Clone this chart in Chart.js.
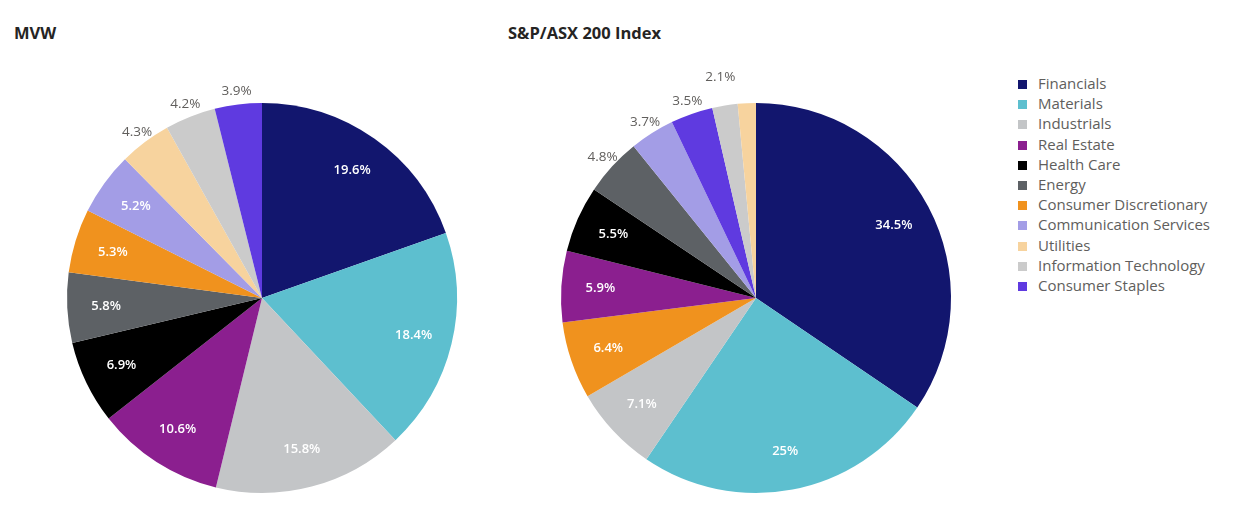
<!DOCTYPE html>
<html>
<head>
<meta charset="utf-8">
<script src="https://cdn.jsdelivr.net/npm/chart.js@4/dist/chart.umd.min.js"></script>
<style>
  body { margin: 0; width: 1233px; height: 517px; background: #fff; position: relative; overflow: hidden; font-family: "Open Sans", sans-serif; }
  .title { position: absolute; top: 21px; font-size: 16.5px; font-weight: 700; color: #252423; }
  .wrap { position: absolute; width: 500px; height: 500px; }
  #legend { position: absolute; left: 1018px; top: 73px; font-size: 15px; color: #605e5c; }
  #legend div { height: 20.2px; line-height: 20.2px; white-space: nowrap; }
  #legend span { display: inline-block; width: 9px; height: 9px; margin-right: 11px; vertical-align: 0px; }
</style>
</head>
<body>
<div class="title" style="left:14px">MVW</div>
<div class="title" style="left:508px">S&amp;P/ASX 200 Index</div>
<div class="wrap" style="left:12px; top:48px"><canvas id="mvwChart"></canvas></div>
<div class="wrap" style="left:506px; top:48px"><canvas id="asxChart"></canvas></div>
<div id="legend"></div>

<script>
// ===============================
// 資料
// ===============================
const sectors = ["Financials", "Materials", "Industrials", "Real Estate", "Health Care", "Energy",
  "Consumer Discretionary", "Communication Services", "Utilities", "Information Technology", "Consumer Staples"];
const sectorColors = ["#12166e", "#5dbfcf", "#c3c5c7", "#8b1f8f", "#000000", "#5d6165",
  "#f0921e", "#a39de6", "#f7d39e", "#cbcbcb", "#5f3ae0"];

const mvwWeights = [19.6, 18.4, 15.8, 10.6, 6.9, 5.8, 5.3, 5.2, 4.3, 4.2, 3.9];

// index is drawn largest first
const asxSectors = ["Financials", "Materials", "Industrials", "Consumer Discretionary", "Real Estate",
  "Health Care", "Energy", "Communication Services", "Consumer Staples", "Information Technology", "Utilities"];
const asxWeights = [34.5, 25, 7.1, 6.4, 5.9, 5.5, 4.8, 3.7, 3.5, 2.1, 1.5];

// ===============================
// 切片標籤
// ===============================
const sliceLabels = {
  id: "sliceLabels",
  afterDatasetsDraw(chart) {
    const ctx = chart.ctx;
    const values = chart.data.datasets[0].data;
    const arcs = chart.getDatasetMeta(0).data;
    ctx.save();
    ctx.textAlign = "center";
    ctx.textBaseline = "middle";
    arcs.forEach((arc, i) => {
      const v = values[i];
      if (v < 2) return;
      const mid = (arc.startAngle + arc.endAngle) / 2;
      let r;
      if (v >= 5) {
        r = arc.outerRadius * 0.8;
        ctx.font = "600 13px 'Open Sans'";
        ctx.fillStyle = "#ffffff";
      } else {
        r = arc.outerRadius + 13;
        // neighbour too small to label -> push out a bit
        if (values[i + 1] !== undefined && values[i + 1] < 2) r += 16;
        ctx.font = "400 13.5px 'Open Sans'";
        ctx.fillStyle = "#605e5c";
      }
      const x = arc.x + Math.cos(mid) * r;
      const y = arc.y + Math.sin(mid) * r;
      ctx.fillText(v + "%", x, y);
    });
    ctx.restore();
  }
};

function drawPie(id, labels, data) {
  new Chart(document.getElementById(id), {
    type: "pie",
    data: {
      labels: labels,
      datasets: [{
        data: data,
        backgroundColor: labels.map(l => sectorColors[sectors.indexOf(l)]),
        borderWidth: 0
      }]
    },
    options: {
      responsive: true,
      maintainAspectRatio: false,
      animation: false,
      layout: { padding: 55 },
      plugins: { legend: { display: false }, tooltip: { enabled: false } }
    },
    plugins: [sliceLabels]
  });
}

drawPie("mvwChart", sectors, mvwWeights);
drawPie("asxChart", asxSectors, asxWeights);

// ===============================
// 圖例
// ===============================
document.getElementById("legend").innerHTML = sectors
  .map((s, i) => `<div><span style="background:${sectorColors[i]}"></span>${s}</div>`)
  .join("");
</script>
</body>
</html>
